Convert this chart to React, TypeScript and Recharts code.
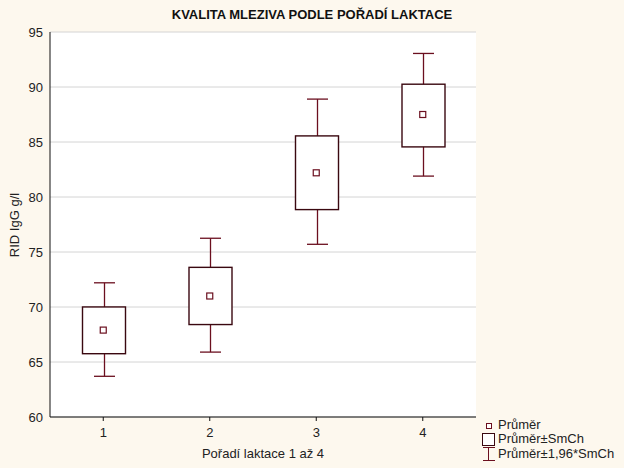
import React from 'react';
import {
    ComposedChart,
    Bar,
    Scatter,
    XAxis,
    YAxis,
    CartesianGrid
} from 'recharts';

const categories = ['1', '2', '3', '4'];
const means = [67.9, 71.0, 82.2, 87.5];
const boxLow = [65.8, 68.45, 78.9, 84.6];
const boxHigh = [70.05, 73.65, 85.6, 90.3];
const whiskerLow = [63.7, 65.9, 75.7, 81.9];
const whiskerHigh = [72.2, 76.25, 88.9, 93.05];
const yTicks = [60, 65, 70, 75, 80, 85, 90, 95];

const MAROON = '#6b0f1f';
const BOX_EDGE = '#3a0810';
const BG = '#fdf8ee';
const FONT = 'Arial, "Liberation Sans", sans-serif';

const data = categories.map((c, i) => ({
    cat: c,
    mean: means[i],
    box: [boxLow[i], boxHigh[i]],
    whisker: [whiskerLow[i], whiskerHigh[i]]
}));

const BoxShape = (props: any) => {
    const { x, y, width, height } = props;
    return <rect x={x + 0.5} y={y + 0.5} width={width} height={height} fill="#fff" stroke={BOX_EDGE} strokeWidth={1.4} />;
};

const WhiskerShape = (props: any) => {
    const { x, y, width, height } = props;
    const cx = Math.round(x + width / 2) + 0.5;
    const cap = 10.5;
    return (
        <g stroke={MAROON} strokeWidth={1.3}>
            <line x1={cx} y1={y} x2={cx} y2={y + height} />
            <line x1={cx - cap} y1={y} x2={cx + cap} y2={y} />
            <line x1={cx - cap} y1={y + height} x2={cx + cap} y2={y + height} />
        </g>
    );
};

const MeanShape = (props: any) => {
    const { cx, cy } = props;
    return <rect x={cx - 3} y={cy - 3} width={6} height={6} fill="#fff" stroke={MAROON} strokeWidth={1.2} />;
};

const LegendBlock = () => (
    <div style={{ position: 'absolute', left: 482, top: 418, fontFamily: FONT, fontSize: 13, color: '#222', lineHeight: '14px' }}>
        <div style={{ display: 'flex', alignItems: 'center', height: 14 }}>
            <svg width={14} height={14}>
                <rect x={4.5} y={5.5} width={5} height={5} fill="#fff" stroke={MAROON} />
            </svg>
            <span style={{ marginLeft: 2 }}>Průměr</span>
        </div>
        <div style={{ display: 'flex', alignItems: 'center', height: 14 }}>
            <svg width={14} height={14}>
                <rect x={0.5} y={1.5} width={12} height={12} fill="#fff" stroke={BOX_EDGE} />
            </svg>
            <span style={{ marginLeft: 2 }}>Průměr±SmCh</span>
        </div>
        <div style={{ display: 'flex', alignItems: 'center', height: 15 }}>
            <svg width={14} height={15}>
                <g stroke={MAROON}>
                    <line x1={1} y1={1.5} x2={13} y2={1.5} />
                    <line x1={6.5} y1={1.5} x2={6.5} y2={14.5} />
                    <line x1={1} y1={14.5} x2={13} y2={14.5} />
                </g>
            </svg>
            <span style={{ marginLeft: 2 }}>Průměr±1,96*SmCh</span>
        </div>
    </div>
);

export default function App() {
    return (
        <div style={{ position: 'absolute', left: 0, top: 0, width: 624, height: 468, background: BG, fontFamily: FONT }}>
            <ComposedChart
                width={624}
                height={468}
                data={data}
                margin={{ top: 32, right: 148, bottom: 21, left: 10 }}
                barGap={-43}
                style={{ position: 'absolute', left: 0, top: 0 }}
            >
                <CartesianGrid vertical={false} stroke="#d4d4d4" fill="#fff" />
                <XAxis
                    dataKey="cat"
                    stroke="#111"
                    tickSize={4}
                    tickMargin={7}
                    height={30}
                    tick={{ fill: '#222', fontSize: 13, fontFamily: FONT }}
                />
                <XAxis xAxisId="top" dataKey="cat" orientation="top" stroke="#111" height={0} mirror tick={false} tickSize={3} />
                <YAxis
                    domain={[60, 95]}
                    ticks={yTicks}
                    stroke="#111"
                    width={40}
                    tickSize={0}
                    tickMargin={7}
                    interval={0}
                    tick={{ fill: '#222', fontSize: 13, fontFamily: FONT }}
                />
                <YAxis
                    yAxisId="right"
                    orientation="right"
                    domain={[60, 95]}
                    ticks={yTicks}
                    stroke="#111"
                    width={0}
                    mirror
                    tick={false}
                    tickSize={3}
                />
                <Bar dataKey="whisker" barSize={43} shape={<WhiskerShape />} isAnimationActive={false} />
                <Bar dataKey="box" barSize={43} shape={<BoxShape />} isAnimationActive={false} />
                <Scatter dataKey="mean" shape={<MeanShape />} isAnimationActive={false} />
            </ComposedChart>
            <div style={{ position: 'absolute', left: 0, width: 624, top: 7, textAlign: 'center', fontSize: 13, fontWeight: 'bold', color: '#111' }}>
                KVALITA MLEZIVA PODLE POŘADÍ LAKTACE
            </div>
            <div
                style={{
                    position: 'absolute',
                    left: 14,
                    top: 225,
                    transform: 'translate(-50%, -50%) rotate(-90deg)',
                    fontSize: 13,
                    color: '#222',
                    whiteSpace: 'nowrap'
                }}
            >
                RID IgG g/l
            </div>
            <div style={{ position: 'absolute', left: 50, width: 426, top: 446, textAlign: 'center', fontSize: 13, color: '#222' }}>
                Pořadí laktace 1 až 4
            </div>
            <LegendBlock />
        </div>
    );
}
